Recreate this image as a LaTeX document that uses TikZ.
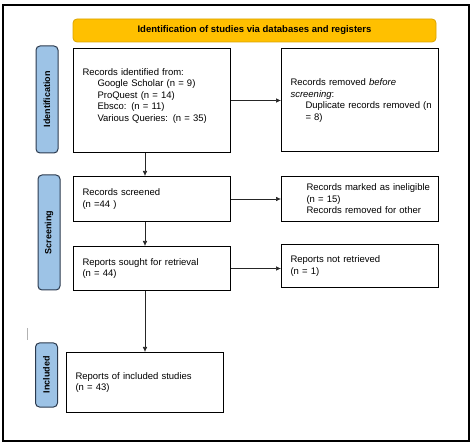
\documentclass[tikz,border=0pt]{standalone}
\usepackage{fontspec}
\setmainfont{Liberation Sans}
\usetikzlibrary{arrows.meta, positioning}

\definecolor{prismayellow}{HTML}{FFC000}
\definecolor{prismaedge}{HTML}{D9A300}
\definecolor{stageblue}{HTML}{9DC3E6}
\definecolor{stageedge}{HTML}{2B3A4E}

\begin{document}
\begin{tikzpicture}[x=1pt, y=-1pt, >={Latex[length=5pt,width=4.5pt]},
    font=\fontsize{9.5}{11.5}\selectfont]
    % Estilos de las cajas y etiquetas
    \tikzstyle{header} = [draw=prismaedge, fill=prismayellow, rounded corners=4pt, line width=0.8pt,
        minimum width=363pt, minimum height=23pt, font=\fontsize{9.5}{11}\selectfont\bfseries]
    \tikzstyle{box} = [draw, line width=1pt, text width=139pt, inner xsep=9pt, inner ysep=0pt, align=left]
    \tikzstyle{stage} = [draw=stageedge, fill=stageblue, rounded corners=4pt, line width=1pt,
        rotate=90, minimum height=22pt, inner sep=0pt, font=\fontsize{9}{11}\selectfont\bfseries]
    \tikzstyle{link} = [->, line width=0.6pt, black!85]

    \useasboundingbox (0,0) rectangle (474,446);
    \draw[line width=2.5pt] (3,5) rectangle (469,441); % marco exterior

    % Encabezado
    \node[header] (head) at (254.5,30.5) {Identification of studies via databases and registers};

    % Nodos de la columna izquierda
    \node[box, minimum height=104pt, anchor=north west] (ident) at (73,48) {Records identified from:\\
        \hspace*{15pt}Google Scholar (n = 9)\\
        \hspace*{15pt}ProQuest (n = 14)\\
        \hspace*{15pt}Ebsco: (n = 11)\\
        \hspace*{15pt}Various Queries: (n = 35)\\ \mbox{}};
    \node[box, minimum height=45pt, below=23pt of ident] (screened) {Records screened\\(n =44 )};
    \node[box, minimum height=44pt, below=24pt of screened] (sought) {Reports sought for retrieval\\(n = 44)};
    \node[box, minimum height=60pt, below=61pt of sought, xshift=-7pt] (included) {Reports of included studies\\(n = 43)};

    % Nodos de la columna derecha
    \node[box, minimum height=103pt, right=50pt of ident] (removed) {Records removed \textit{before}\\
        \textit{screening}:\\
        \hspace*{15pt}\mbox{Duplicate records removed (n}\\
        \hspace*{15pt}= 8)};
    \node[box, minimum height=45pt, right=50pt of screened] (ineligible) {\hspace*{16pt}\mbox{Records marked as ineligible}\\
        \hspace*{16pt}(n = 15)\\
        \hspace*{16pt}\mbox{Records removed for other}};
    \node[box, minimum height=43pt, right=50pt of sought, yshift=2.5pt] (notretrieved) {Reports not retrieved\\(n = 1)};

    % Etiquetas de las fases
    \node[stage, minimum width=107pt] (stIdent) at (47,99.5) {Identification};
    \node[stage, minimum width=115pt] (stScreen) at (49,232.5) {Screening};
    \node[stage, minimum width=64pt] (stIncl) at (46.5,375) {Included};

    % Conexiones
    \draw[link] (ident.east) -- (ident.east -| removed.west);
    \draw[link] (ident.south -| included.north) -- (screened.north -| included.north);
    \draw[link] (screened) -- (ineligible);
    \draw[link] (screened.south -| included.north) -- (sought.north -| included.north);
    \draw[link] (sought.east) -- (sought.east -| notretrieved.west);
    \draw[link] (sought.south -| included.north) -- (included.north);

    \draw[black!30, line width=0.6pt] (27,328) -- (27,340); % marca suelta
\end{tikzpicture}
\end{document}
